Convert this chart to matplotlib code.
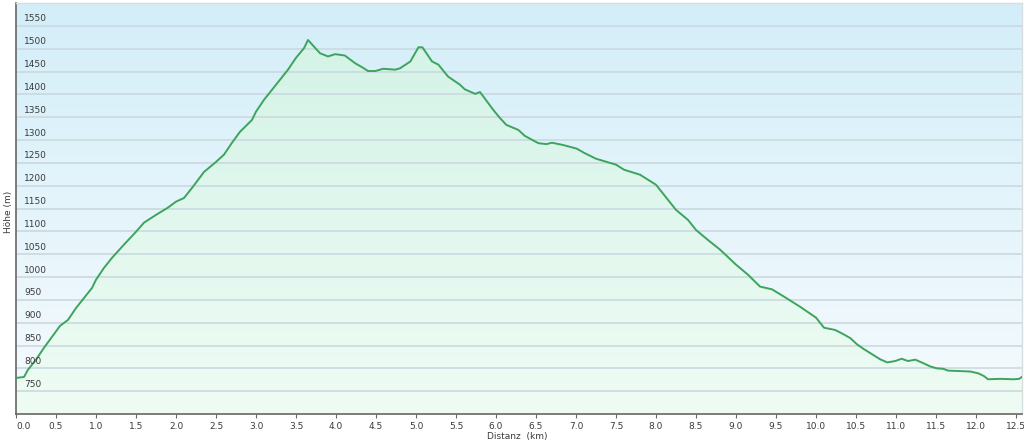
import matplotlib.pyplot as plt
import numpy as np
from matplotlib.colors import LinearSegmentedColormap

# elevation profile
distance_km = [
    0.0, 0.1, 0.15, 0.25, 0.35, 0.45, 0.55, 0.65, 0.75, 0.85, 0.95, 1.0,
    1.1, 1.2, 1.35, 1.5, 1.6, 1.75, 1.9, 2.0, 2.1, 2.2, 2.35, 2.5, 2.6,
    2.7, 2.8, 2.95, 3.0, 3.1, 3.2, 3.3, 3.4, 3.5, 3.6, 3.65, 3.8, 3.9,
    3.99, 4.11, 4.24, 4.34, 4.4, 4.49, 4.59, 4.74, 4.8, 4.93, 5.03, 5.08,
    5.2, 5.28, 5.4, 5.55, 5.61, 5.74, 5.8, 5.97, 6.05, 6.13, 6.28, 6.36,
    6.53, 6.63, 6.7, 6.84, 7.01, 7.1, 7.25, 7.5, 7.6, 7.8, 8.0, 8.1,
    8.25, 8.4, 8.5, 8.65, 8.8, 9.0, 9.15, 9.3, 9.45, 9.6, 9.8, 10.0,
    10.1, 10.24, 10.34, 10.43, 10.51, 10.59, 10.7, 10.8, 10.89, 10.99,
    11.07, 11.15, 11.24, 11.32, 11.43, 11.51, 11.59, 11.65, 11.8, 11.93,
    12.03, 12.1, 12.15, 12.3, 12.47, 12.54, 12.58,
]
elevation_m = [
    779, 781, 797, 819, 845, 869, 893, 906, 932, 954, 976, 994,
    1020, 1042, 1071, 1099, 1119, 1136, 1152, 1165, 1173, 1195, 1230, 1252, 1268,
    1294, 1318, 1344, 1362, 1388, 1410, 1432, 1454, 1480, 1501, 1519, 1490, 1483,
    1488, 1485, 1468, 1458, 1451, 1451, 1456, 1454, 1457, 1472, 1503, 1503,
    1472, 1465, 1439, 1421, 1411, 1401, 1405, 1365, 1348, 1333, 1322, 1309,
    1293, 1291, 1294, 1289, 1281, 1272, 1259, 1246, 1235, 1224, 1202, 1180,
    1147, 1125, 1103, 1081, 1060, 1027, 1005, 979, 973, 957, 935, 911,
    889, 884, 875, 866, 853, 843, 831, 820, 813, 816,
    821, 816, 819, 813, 804, 800, 799, 795, 794, 793,
    789, 783, 776, 777, 776, 777, 782,
]
x_ticks = np.arange(0, 12.51, 0.5)
y_ticks = np.arange(750, 1551, 50)

X_MIN, X_MAX = 0, 12.575
Y_MIN, Y_MAX = 700, 1600

fig = plt.figure(figsize=(10.24, 4.44), dpi=100)
ax = fig.add_axes([16 / 1024, 30 / 444, 1006 / 1024, 411 / 444])
ax.set_xlim(X_MIN, X_MAX)
ax.set_ylim(Y_MIN, Y_MAX)

# sky-blue background gradient
bg_cmap = LinearSegmentedColormap.from_list("bg", ["#f6fbfe", "#d3eef9"])
grad = np.linspace(0, 1, 256).reshape(-1, 1)
ax.imshow(grad, cmap=bg_cmap, origin="lower", aspect="auto",
          extent=[X_MIN, X_MAX, Y_MIN, Y_MAX], zorder=0)

# green gradient under the curve
fill_cmap = LinearSegmentedColormap.from_list("fill", ["#effcf4", "#d2f2e6"])
fill_img = ax.imshow(grad, cmap=fill_cmap, origin="lower", aspect="auto",
                     extent=[X_MIN, X_MAX, Y_MIN, Y_MAX], zorder=1)
poly = ax.fill_between(distance_km, elevation_m, Y_MIN, color="none", lw=0)
clip_path = poly.get_paths()[0]
fill_img.set_clip_path(clip_path, transform=ax.transData)

for yv in y_ticks:
    ax.axhline(yv, color="#cbd9df", lw=1.2, zorder=2)
    ax.annotate(f"{yv}", xy=(0, yv), xytext=(6, 5), textcoords="offset points",
                fontsize=6.5, color="#3a3a3a", va="center", ha="left", zorder=4)

ax.plot(distance_km, elevation_m, color="#3ca45c", lw=1.4, zorder=3)

ax.set_yticks([])
ax.set_xticks(x_ticks)
ax.set_xticklabels([f"{v:.1f}" for v in x_ticks], fontsize=6.5, color="#3a3a3a")
ax.get_xticklabels()[0].set_horizontalalignment("left")
ax.tick_params(axis="x", direction="out", length=3, color="#666666", pad=3)

for side in ["top", "right"]:
    ax.spines[side].set_color("#d8dde0")
    ax.spines[side].set_linewidth(1)
for side in ["left", "bottom"]:
    ax.spines[side].set_color("#666666")
    ax.spines[side].set_linewidth(1.2)

fig.text(517 / 1024, 1 - 436 / 444, "Distanz  (km)", fontsize=6.5,
         color="#3a3a3a", ha="center", va="center")
fig.text(8 / 1024, 1 - 212 / 444, "Höhe (m)", fontsize=6.5, color="#3a3a3a",
         ha="center", va="center", rotation=90)

fig.savefig("out.png", dpi=100)
